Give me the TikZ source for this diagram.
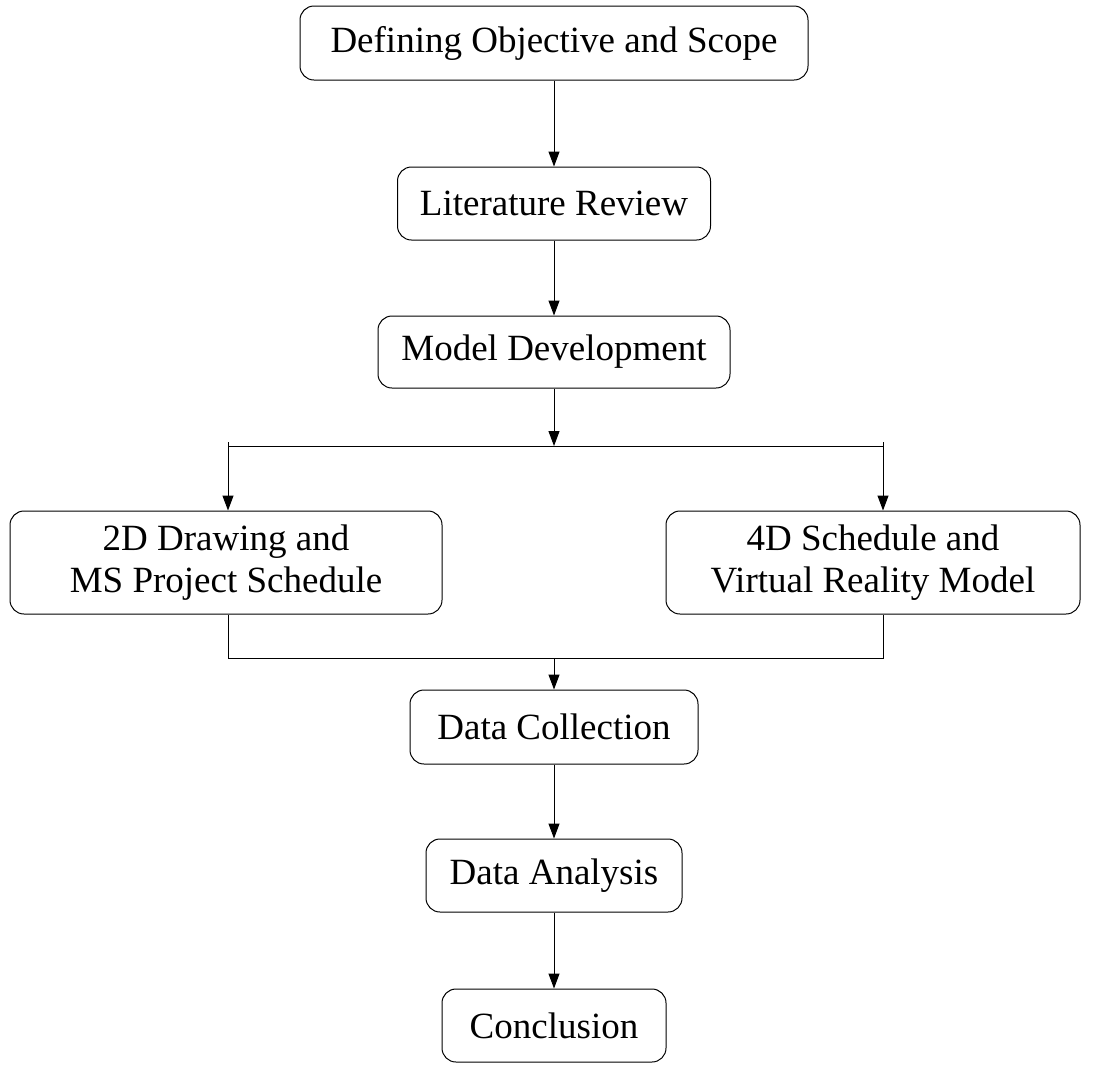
\documentclass[tikz,border=0pt]{standalone}
\usepackage{fontspec}
\setmainfont{Liberation Serif}
\usetikzlibrary{arrows.meta}
\begin{document}
\begin{tikzpicture}[x=1pt,y=-1pt,
  box/.style={draw, line width=1pt, rounded corners=14pt, align=center, inner sep=0pt,
    font=\fontsize{37}{42}\selectfont},
  arr/.style={line width=1pt, -{Triangle[length=15pt,width=11pt]}},
  ln/.style={line width=1pt}]
\useasboundingbox (0,0) rectangle (1094,1080);
\node[box, minimum width=508pt, minimum height=74pt] (n1) at (554,43) {Defining Objective and Scope};
\node[box, minimum width=313pt, minimum height=73pt] (n2) at (554,203.5) {Literature Review};
\node[box, minimum width=352pt, minimum height=72pt] (n3) at (554,352) {Model Development};
\node[box, minimum width=432pt, minimum height=103pt] (n4) at (226,562.5) {2D Drawing and\\MS Project Schedule};
\node[box, minimum width=414pt, minimum height=103pt] (n5) at (873,562.5) {4D Schedule and\\Virtual Reality Model};
\node[box, minimum width=288pt, minimum height=74pt] (n6) at (554,727) {Data Collection};
\node[box, minimum width=256pt, minimum height=73pt] (n7) at (554,875.5) {Data Analysis};
\node[box, minimum width=224pt, minimum height=73pt] (n8) at (554,1025.5) {Conclusion};
\coordinate (sm) at (554,446);
\coordinate (sl) at (228,446);
\coordinate (sr) at (883,446);
\coordinate (bl) at (228,658);
\coordinate (bm) at (554,658);
\coordinate (br) at (883,658);
\draw[arr] (n1) -- (n2);
\draw[arr] (n2) -- (n3);
\draw[arr] (n3) -- (sm);
\draw[ln] (sl) -- (sr);
\draw[arr] ([yshift=4pt]sl) -- (sl |- n4.north);
\draw[arr] ([yshift=4pt]sr) -- (sr |- n5.north);
\draw[ln] (bl |- n4.south) -- (bl) -- (br) -- (br |- n5.south);
\draw[arr] (bm) -- (n6);
\draw[arr] (n6) -- (n7);
\draw[arr] (n7) -- (n8);
\end{tikzpicture}
\end{document}
